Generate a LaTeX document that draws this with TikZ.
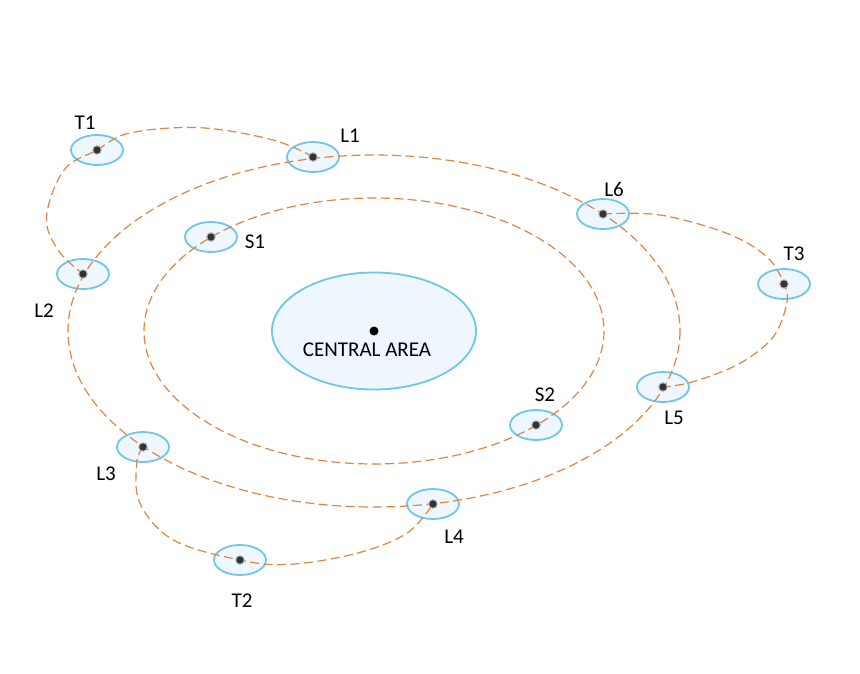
\documentclass[tikz,border=0pt]{standalone}
\usepackage{fontspec}
\setmainfont{Carlito}
\definecolor{orb}{HTML}{E08443}
\definecolor{ringc}{HTML}{72C5EA}
\definecolor{fillc}{HTML}{EEF7FD}
\definecolor{dotc}{HTML}{333333}
\tikzset{
  sat/.style={ellipse, draw=ringc, fill=fillc, line width=1.8pt, minimum width=52pt, minimum height=30pt, inner sep=0pt},
  orbit/.style={draw=orb, line width=1.2pt, dash pattern=on 9pt off 4.5pt},
  lbl/.style={font=\fontsize{21}{25}\selectfont, inner sep=0pt},
}
\usetikzlibrary{shapes.geometric}
\begin{document}
\begin{tikzpicture}[x=1pt,y=-1pt]
\useasboundingbox (0,0) rectangle (860,673);
% central area
\node[ellipse, draw=ringc, fill=fillc, line width=1.8pt, minimum width=204pt, minimum height=117pt, inner sep=0pt] (C) at (374,331) {};
% satellites
\node[sat] (T1) at (97,150) {};
\node[sat] (L1) at (313,157) {};
\node[sat] (L6) at (603,214) {};
\node[sat] (T3) at (784,284) {};
\node[sat] (S1) at (211,237) {};
\node[sat] (L2) at (83,274) {};
\node[sat] (L5) at (663,387) {};
\node[sat] (S2) at (536,425) {};
\node[sat] (L3) at (143,447) {};
\node[sat] (L4) at (433,504) {};
\node[sat] (T2) at (240,560) {};
% orbits
\draw[orbit] (C.center) ellipse [x radius=230, y radius=133];
\draw[orbit] (C.center) ellipse [x radius=306, y radius=176];
% transfer arcs
\draw[orbit] plot[smooth, tension=0.6] coordinates {(L1.center) (273,140) (200,127.7) (130,133) (T1.center) (64,170) (46.5,216.7) (58,250) (L2.center)};
\draw[orbit] plot[smooth, tension=0.6] coordinates {(L6.center) (660,215) (726.7,233.3) (766.7,256.7) (T3.center) (786.7,303.3) (773.3,336.7) (740,363.3) (693.3,381.7) (L5.center)};
\draw[orbit] plot[smooth, tension=0.6] coordinates {(L3.center) (136.7,463.3) (140,503.3) (173.3,540) (T2.center) (290,564.3) (356.7,553.3) (406.7,533.3) (L4.center)};
% dots
\foreach \n in {T1,L1,L6,T3,S1,L2,L5,S2,L3,L4,T2}{
  \fill[gray!60] (\n.center) circle (4.8);
  \fill[dotc] (\n.center) circle (3.6);
}
\fill[black] (C.center) circle (4.5);
% labels
\node[lbl] (tT1) at (85,123) {T1};
\node[lbl] (tL1) at (350,136) {L1};
\node[lbl] (tL6) at (614,189) {L6};
\node[lbl] (tT3) at (794,254) {T3};
\node[lbl] (tS1) at (255,242) {S1};
\node[lbl] (tL2) at (44,311) {L2};
\node[lbl] (tL5) at (674,418) {L5};
\node[lbl] (tS2) at (545,395) {S2};
\node[lbl] (tL3) at (106,474) {L3};
\node[lbl] (tL4) at (454,537) {L4};
\node[lbl] (tT2) at (242,601) {T2};
\node[lbl] (tC) at (367,350) {CENTRAL AREA};
\end{tikzpicture}
\end{document}
